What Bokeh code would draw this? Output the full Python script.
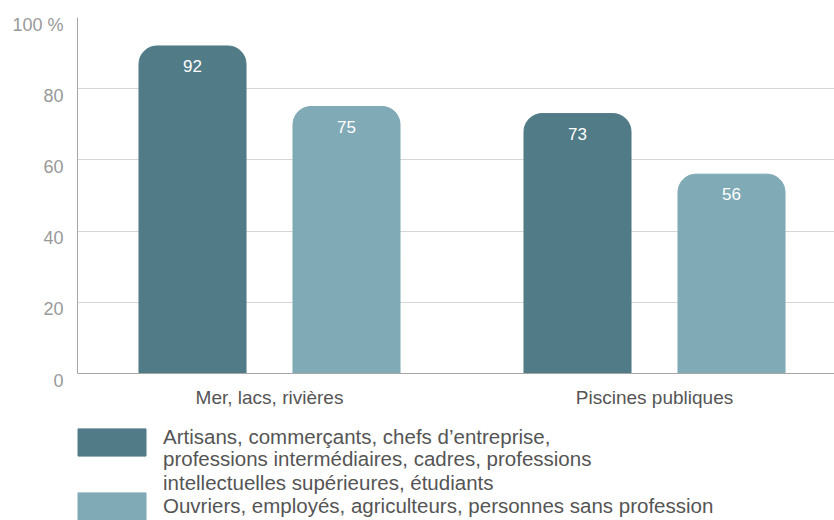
from bokeh.plotting import figure
from bokeh.models import (ColumnDataSource, Range1d, LinearAxis, FixedTicker,
                          Legend, LegendItem, Span)
from bokeh.core.properties import value
from bokeh.embed import file_html
from bokeh.resources import INLINE

groups = ["Mer, lacs, rivières", "Piscines publiques"]
series_a_name = ["Artisans, commerçants, chefs d’entreprise,",
                 "professions intermédiaires, cadres, professions\nintellectuelles supérieures, étudiants"]
series_b_name = "Ouvriers, employés, agriculteurs, personnes sans profession"
values_a = [92, 73]
values_b = [75, 56]
colors = ["#517b86", "#80aab6"]
y_ticks = [0, 20, 40, 60, 80, 100]
y_tick_labels = ["0", "20", "40", "60", "80", "100 %"]

FONT = "Liberation Sans"
PX_PER_UNIT = 3.56           # vertical scale of the value axis (px per %)
BOTTOM_SPACE = 147           # room under the baseline for labels + legend

gx = list(range(len(groups)))
y_start = -BOTTOM_SPACE / PX_PER_UNIT
p = figure(width=834, height=520, output_backend="svg", toolbar_location=None,
           x_range=Range1d(-0.4987, 1.4675), y_range=Range1d(y_start, 100),
           min_border_left=77, min_border_right=0, min_border_top=17,
           min_border_bottom=0)
p.outline_line_color = None
p.background_fill_color = "white"
p.border_fill_color = "white"

src_a = ColumnDataSource(dict(x=[g - 0.2 for g in gx], top=values_a,
                              lab=[str(v) for v in values_a]))
src_b = ColumnDataSource(dict(x=[g + 0.2 for g in gx], top=values_b,
                              lab=[str(v) for v in values_b]))

p.ygrid.ticker = FixedTicker(ticks=y_ticks)
p.ygrid.grid_line_color = "#d6d6d6"
p.xgrid.visible = False

ra = p.vbar(x="x", top="top", bottom=0, width=0.278, source=src_a,
            color=colors[0], border_radius=(18, 18, 0, 0))
rb = p.vbar(x="x", top="top", bottom=0, width=0.278, source=src_b,
            color=colors[1], border_radius=(18, 18, 0, 0))
for s in (src_a, src_b):
    p.text(x="x", y="top", text="lab", source=s, text_color="white",
           text_align="center", text_baseline="middle", y_offset=20,
           text_font_size="17px", text_font=value(FONT))

# baseline (x axis line) at 0
p.add_layout(Span(location=0, dimension="width", line_color="#a6a6a6",
                  line_width=1))

# category labels under the baseline
cat_src = ColumnDataSource(dict(x=gx, y=[0] * len(gx), t=groups))
p.text(x="x", y="y", text="t", source=cat_src, text_color="#555555",
       text_align="center", text_baseline="middle", y_offset=24,
       text_font_size="19px", text_font=value(FONT))

p.xaxis.visible = False

# main y axis: line only, limited to 0..100
p.yaxis.ticker = FixedTicker(ticks=[])
p.yaxis.bounds = (0, 100)
p.yaxis.axis_line_color = "#a6a6a6"
p.yaxis.major_tick_line_color = None
p.yaxis.minor_tick_line_color = None

# label axis, shifted a little downward relative to the grid lines
shift = 2.0
p.extra_y_ranges = {"lab": Range1d(y_start + shift, 100 + shift)}
yax = LinearAxis(y_range_name="lab", ticker=FixedTicker(ticks=y_ticks))
yax.major_label_overrides = {t: l for t, l in zip(y_ticks, y_tick_labels)}
yax.major_label_text_font = FONT
yax.major_label_text_font_size = "18px"
yax.major_label_text_color = "#999999"
yax.major_tick_line_color = None
yax.minor_tick_line_color = None
yax.axis_line_color = None
yax.major_label_standoff = 8
p.add_layout(yax, "left")

# invisible renderer for text-only legend rows
blank = p.vbar(x=[], top=[], width=0.1, fill_alpha=0, line_alpha=0)

common = dict(orientation="vertical", glyph_width=85, glyph_height=34,
              label_standoff=9, label_text_font=FONT,
              label_text_font_size="20.5px", label_text_line_height=1.12,
              label_text_color="#555555", spacing=0, padding=0, margin=0,
              border_line_color=None, background_fill_alpha=0)
leg_sw1 = Legend(items=[LegendItem(label=" ", renderers=[ra], index=0)],
                 location=(-8, 61), **common)
leg_t1 = Legend(items=[LegendItem(label=series_a_name[0], renderers=[blank])],
                location=(-8, 66), **common)
leg_t2 = Legend(items=[LegendItem(label=series_a_name[1], renderers=[blank])],
                location=(-8, 25), **common)
leg3 = Legend(items=[LegendItem(label=series_b_name, renderers=[rb], index=0)],
              location=(-8, -3), **common)
for lg in (leg_sw1, leg_t1, leg_t2, leg3):
    p.add_layout(lg, "center")

open("out.html", "w").write(file_html(p, INLINE))
